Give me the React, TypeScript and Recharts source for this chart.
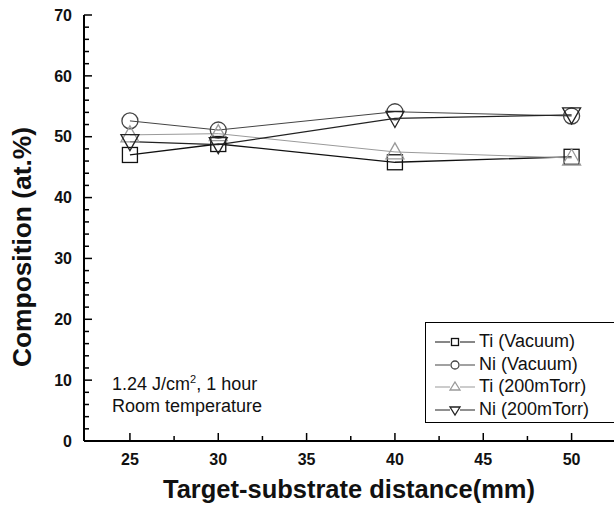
import React from 'react'
import { LineChart, Line, XAxis, YAxis, Legend } from 'recharts'

const distances = [25, 30, 40, 50]
const tiVacuum = [47.0, 48.8, 45.8, 46.7]
const niVacuum = [52.6, 51.1, 54.1, 53.4]
const tiTorr = [50.3, 50.5, 47.5, 46.5]
const niTorr = [49.2, 48.7, 53.0, 53.6]

const xTicks = [25, 27.5, 30, 32.5, 35, 37.5, 40, 42.5, 45, 47.5, 50, 52.5]
const xMajor = [25, 30, 35, 40, 45, 50]
const yTicks = Array.from({ length: 36 }, (_, i) => i * 2)

const FONT = '"Liberation Sans", Arial, sans-serif'

const data = distances.map((d, i) => ({
  distance: d,
  tiVacuum: tiVacuum[i],
  niVacuum: niVacuum[i],
  tiTorr: tiTorr[i],
  niTorr: niTorr[i],
}))

type Shape = 'square' | 'circle' | 'up' | 'down'

const series: { key: string; name: string; shape: Shape; color: string; width: number }[] = [
  { key: 'tiVacuum', name: 'Ti (Vacuum)', shape: 'square', color: '#111', width: 1.3 },
  { key: 'niVacuum', name: 'Ni (Vacuum)', shape: 'circle', color: '#444', width: 1 },
  { key: 'tiTorr', name: 'Ti (200mTorr)', shape: 'up', color: '#9a9a9a', width: 1 },
  { key: 'niTorr', name: 'Ni (200mTorr)', shape: 'down', color: '#222', width: 1.2 },
]

function Marker({ cx, cy, shape, color, s = 8 }: { cx: number; cy: number; shape: Shape; color: string; s?: number }) {
  const common = { fill: 'none', stroke: color, strokeWidth: 1.3 }
  if (shape === 'square') return <rect x={cx - s + 0.5} y={cy - s + 0.5} width={2 * s - 1} height={2 * s - 1} {...common} />
  if (shape === 'circle') return <circle cx={cx} cy={cy} r={s} {...common} />
  if (shape === 'up')
    return <polygon points={`${cx},${cy - s - 1} ${cx + s + 1},${cy + s - 1} ${cx - s - 1},${cy + s - 1}`} {...common} />
  return <polygon points={`${cx - s - 1},${cy - s + 1} ${cx + s + 1},${cy - s + 1} ${cx},${cy + s + 1}`} {...common} />
}

const YTick = (props: any) => {
  const { x, y, payload } = props
  const major = payload.value % 10 === 0
  return (
    <g>
      <line x1={x + 12} x2={x + 12 + (major ? 8 : 5)} y1={y} y2={y} stroke="#000" strokeWidth={1.5} />
      {major && (
        <text x={x} y={y} dy="0.36em" textAnchor="end" fontFamily={FONT} fontWeight="bold" fontSize={16} fill="#111">
          {payload.value}
        </text>
      )}
    </g>
  )
}

const XTick = (props: any) => {
  const { x, y, payload } = props
  const major = xMajor.includes(payload.value)
  return (
    <g>
      <line x1={x} x2={x} y1={y - 12} y2={y - 12 - (major ? 8 : 5)} stroke="#000" strokeWidth={1.5} />
      {major && (
        <text x={x} y={y} dy="0.72em" textAnchor="middle" fontFamily={FONT} fontWeight="bold" fontSize={16} fill="#111">
          {payload.value}
        </text>
      )}
    </g>
  )
}

const renderLegend = () => (
  <div
    style={{
      border: '1px solid #000',
      background: '#fff',
      width: 200,
      padding: '7px 0 2px 0',
      fontFamily: FONT,
      fontSize: 18,
      color: '#111',
    }}
  >
    {series.map((s) => (
      <div key={s.key} style={{ display: 'flex', alignItems: 'center', height: 22.5, lineHeight: '22.5px' }}>
        <svg width={43} height={22} style={{ marginLeft: 9, marginRight: 1 }}>
          <line x1={0} x2={40} y1={12} y2={12} stroke={s.color} strokeWidth={1.2} />
          <rect x={15} y={7} width={10} height={10} fill="#fff" />
          <Marker cx={20} cy={12} shape={s.shape} color={s.color} s={4} />
        </svg>
        <span>{s.name}</span>
      </div>
    ))}
  </div>
)

export default function App() {
  return (
    <div style={{ position: 'absolute', left: 0, top: 0, width: 614, height: 509, overflow: 'hidden', background: '#fff' }}>
      <LineChart width={614} height={509} data={data} margin={{ top: 15, right: 0, bottom: 0, left: 0 }}>
        <XAxis
          xAxisId="top"
          orientation="top"
          type="number"
          domain={[22.4, 52.4]}
          height={0}
          tick={false}
          tickLine={false}
          axisLine={{ stroke: '#000', strokeWidth: 2 }}
        />
        <XAxis
          dataKey="distance"
          type="number"
          domain={[22.4, 52.4]}
          ticks={xTicks}
          interval={0}
          height={68}
          tickSize={0}
          tickMargin={12}
          tick={<XTick />}
          axisLine={{ stroke: '#000', strokeWidth: 2 }}
          label={() => (
            <text x={349} y={498} textAnchor="middle" fontFamily={FONT} fontWeight="bold" fontSize={25} textLength={372} lengthAdjust="spacingAndGlyphs" fill="#111">
              Target-substrate distance(mm)
            </text>
          )}
        />
        <YAxis
          type="number"
          domain={[0, 70]}
          ticks={yTicks}
          interval={0}
          width={84}
          tickSize={0}
          tickMargin={12}
          tick={<YTick />}
          axisLine={{ stroke: '#000', strokeWidth: 2 }}
          label={() => (
            <text
              x={31}
              y={247}
              transform="rotate(-90 31 247)"
              textAnchor="middle"
              fontFamily={FONT}
              fontWeight="bold"
              fontSize={25}
              textLength={240}
              lengthAdjust="spacingAndGlyphs"
              fill="#111"
            >
              Composition (at.%)
            </text>
          )}
        />
        {series.map((s) => (
          <Line
            key={s.key}
            dataKey={s.key}
            name={s.name}
            type="linear"
            stroke={s.color}
            strokeWidth={s.width}
            isAnimationActive={false}
            dot={(p: any) => <Marker key={`${s.key}-${p.index}`} cx={p.cx} cy={p.cy} shape={s.shape} color={s.color} />}
            activeDot={false}
          />
        ))}
        <Legend
          layout="vertical"
          align="center"
          verticalAlign="middle"
          content={renderLegend}
          wrapperStyle={{ left: 425, top: 322, width: 200 }}
        />
      </LineChart>
      <div style={{ position: 'absolute', left: 112, top: 373, fontFamily: FONT, fontSize: 18, lineHeight: '22px', color: '#111' }}>
        <div>
          1.24 J/cm<sup style={{ fontSize: 11, lineHeight: 0 }}>2</sup>, 1 hour
        </div>
        <div>Room temperature</div>
      </div>
    </div>
  )
}
